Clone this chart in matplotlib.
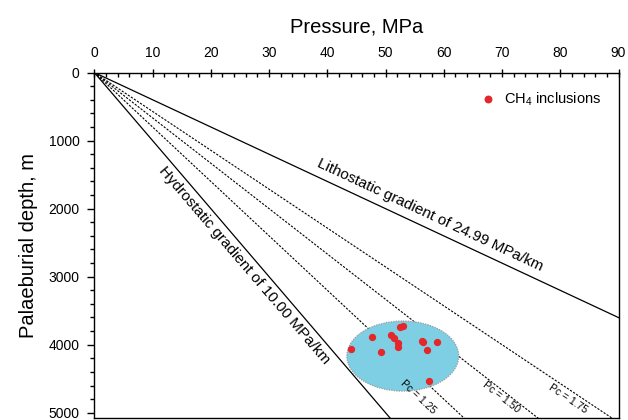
import numpy as np
import matplotlib
matplotlib.use('Agg')
from matplotlib import pyplot as plt
from matplotlib.patches import Ellipse
from matplotlib.ticker import MultipleLocator

plt.rcParams['font.family'] = ['Liberation Sans', 'DejaVu Sans']

# gradients in MPa/km
hydro_grad = 10.00
litho_grad = 24.99
pc_values = [1.25, 1.50, 1.75]
pc_labels = ['Pc = 1.25', 'Pc = 1.50', 'Pc = 1.75']
pc_label_pos = [(55.6, 4770), (69.8, 4770), (81.3, 4800)]

# CH4 inclusions: pressure (MPa), depth (m)
inc_p = [44.1, 47.6, 49.2, 52.4, 53.0, 51.0, 51.4, 52.2, 52.2, 56.2, 56.4, 57.2, 58.9, 57.4]
inc_d = [4068, 3883, 4108, 3736, 3726, 3853, 3902, 3971, 4039, 3942, 3966, 4074, 3961, 4530]

# shaded field around the inclusions
field_center = (52.96, 4167)
field_width = 19.2
field_height = 1030

fig = plt.figure(figsize=(6.28, 4.2), dpi=100)
ax = fig.add_axes([0.1502, 0.004, 0.8347, 0.8233])
ax.set_xlim(0, 90)
ax.set_ylim(5082, 0)

depth = np.array([0, 5100])

ax.plot(hydro_grad * depth / 1000, depth, color='black', lw=0.9)
ax.plot(litho_grad * depth / 1000, depth, color='black', lw=0.9)
for pc in pc_values:
    ax.plot(pc * hydro_grad * depth / 1000, depth, color='black', lw=0.8,
            linestyle=(0, (2, 1.3)))

ax.add_patch(Ellipse(field_center, field_width, field_height,
                     facecolor='#7ecfe4', edgecolor='#9a9a9a', lw=0.9,
                     linestyle=(0, (1, 1)), zorder=2))
ax.scatter(inc_p, inc_d, s=18, color='#e5262b', zorder=3,
           label=r'CH$_\mathregular{4}$ inclusions')


def screen_angle(grad):
    p1 = ax.transData.transform((0, 0))
    p2 = ax.transData.transform((grad * 5, 5000))
    return np.degrees(np.arctan2(p2[1] - p1[1], p2[0] - p1[0]))


ax.text(25.8, 2829, 'Hydrostatic gradient of 10.00 MPa/km', fontsize=11,
        rotation=screen_angle(hydro_grad), rotation_mode='anchor',
        ha='center', va='center')
ax.text(57.7, 2102, 'Lithostatic gradient of 24.99 MPa/km', fontsize=11,
        rotation=screen_angle(litho_grad), rotation_mode='anchor',
        ha='center', va='center')
for pc, lab, pos in zip(pc_values, pc_labels, pc_label_pos):
    ax.text(pos[0], pos[1], lab, fontsize=7.5,
            rotation=screen_angle(pc * hydro_grad), rotation_mode='anchor',
            ha='center', va='center')

# axes styling
ax.xaxis.tick_top()
ax.xaxis.set_label_position('top')
ax.xaxis.set_major_locator(MultipleLocator(10))
ax.xaxis.set_minor_locator(MultipleLocator(2))
ax.yaxis.set_major_locator(MultipleLocator(1000))
ax.yaxis.set_minor_locator(MultipleLocator(200))
ax.tick_params(axis='x', which='major', direction='inout', length=6, width=1,
               labelsize=10, pad=6)
ax.tick_params(axis='x', which='minor', direction='in', length=3, width=1)
ax.tick_params(axis='y', which='major', direction='out', length=5, width=1,
               labelsize=10, pad=5.5)
ax.tick_params(axis='y', which='minor', direction='out', length=3, width=1)
for sp in ax.spines.values():
    sp.set_linewidth(1)

ax.set_xlabel('Pressure, MPa', fontsize=14.5, labelpad=10)
ax.set_ylabel('Palaeburial depth, m', fontsize=14.5, labelpad=8)

ax.legend(loc='upper right', frameon=False, fontsize=10.5, scatterpoints=1,
          handletextpad=0.05, borderaxespad=0.8, markerscale=1.1)

fig.savefig('out.png', dpi=100)
